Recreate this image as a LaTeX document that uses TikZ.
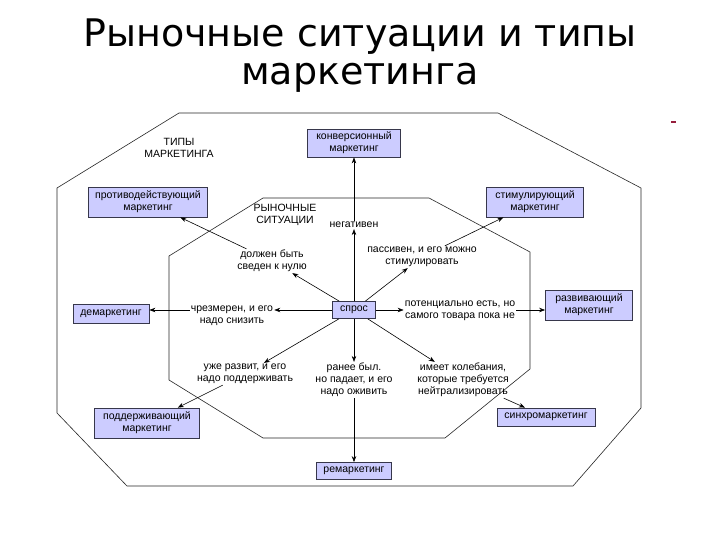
\documentclass[tikz,border=0pt]{standalone}
\usepackage{fontspec}
\setmainfont{Liberation Sans}
\newfontfamily\titlefont{DejaVu Sans}
\usetikzlibrary{arrows.meta}

\definecolor{boxfill}{RGB}{204,204,255}
\definecolor{boxline}{RGB}{55,55,75}
\definecolor{markred}{RGB}{150,30,60}

\tikzstyle{mbox} = [rectangle,draw=boxline,fill=boxfill,line width=.8pt,align=center,inner sep=2pt,font=\fontsize{10.5}{12}\selectfont]
\tikzstyle{sit} = [align=center,inner sep=1pt,font=\fontsize{10.5}{12}\selectfont]
\tikzstyle{edge} = [-{Stealth[length=6pt,width=4.5pt]},line width=.6pt]
\tikzstyle{frame} = [line width=.6pt,draw=black!85]

\begin{document}
\begin{tikzpicture}[x=1pt,y=-1pt]
\useasboundingbox[fill=white] (0,0) rectangle (720,540);

% title
\node[anchor=base,font=\titlefont\fontsize{38}{38}\selectfont] (t1) at (360,47) {Рыночные ситуации и типы};
\node[anchor=base,font=\titlefont\fontsize{38}{38}\selectfont] (t2) at (360,85) {маркетинга};

% octagons
\draw[frame] (179,113) -- (498,113) -- (641,188) -- (641,408) -- (573,486) -- (127,486) -- (57,413) -- (57,188) -- cycle;
\draw[frame] (263,198) -- (429,198) -- (530,252) -- (530,369) -- (445,438) -- (263,438) -- (169,380) -- (169,256) -- cycle;

% headings
\node[sit] (types) at (179,148) {ТИПЫ\\МАРКЕТИНГА};
\node[sit] (market) at (285,215) {РЫНОЧНЫЕ\\СИТУАЦИИ};

% boxes
\node[mbox,minimum width=93pt,minimum height=28pt] (konv) at (354,143) {конверсионный\\маркетинг};
\node[mbox,minimum width=119pt,minimum height=30pt] (protiv) at (148,202) {противодействующий\\маркетинг};
\node[mbox,minimum width=97pt,minimum height=30pt] (stim) at (535,202) {стимулирующий\\маркетинг};
\node[mbox,minimum width=76pt,minimum height=19pt] (demark) at (111,314) {демаркетинг};
\node[mbox,minimum width=87pt,minimum height=30pt] (razv) at (589,305) {развивающий\\маркетинг};
\node[mbox,minimum width=43pt,minimum height=17pt] (spros) at (354,310) {спрос};
\node[mbox,minimum width=105pt,minimum height=30pt] (podd) at (147,423) {поддерживающий\\маркетинг};
\node[mbox,minimum width=75pt,minimum height=17pt] (remark) at (354,471) {ремаркетинг};
\node[mbox,minimum width=98pt,minimum height=18pt] (sinhro) at (546,417) {синхромаркетинг};

% situations
\node[sit] (negat) at (354,225) {негативен};
\node[sit] (dolzh) at (272,261) {должен быть\\сведен к нулю};
\node[sit] (passiv) at (422,257) {пассивен, и его можно\\стимулировать};
\node[sit] (chrez) at (232,316) {чрезмерен, и его\\надо снизить};
\node[sit] (potent) at (460,311) {потенциально есть, но\\самого товара пока не};
\node[sit] (uzhe) at (245,374) {уже развит, и его\\надо поддерживать};
\node[sit] (ranee) at (354,380) {ранее был.\\но падает, и его\\надо оживить};
\node[sit] (koleb) at (463,380) {имеет колебания,\\которые требуется\\нейтрализировать};

% edges
\foreach \s/\b in {negat/konv,dolzh/protiv,passiv/stim,uzhe/podd,ranee/remark,koleb/sinhro} {
    \draw[edge] (spros) -- (\s);
    \draw[edge] (\s) -- (\b);
}
\draw[edge] (spros.west) -- (chrez.east |- spros.west);
\draw[edge] (chrez.west |- spros.west) -- (demark.east |- spros.west);
\draw[edge] (spros.east) -- (potent.west |- spros.east);
\draw[edge] (potent.east |- spros.east) -- (razv.west |- spros.east);

% mark
\draw[markred,line width=1.2pt] (671,122) -- (676,122);

\end{tikzpicture}
\end{document}
